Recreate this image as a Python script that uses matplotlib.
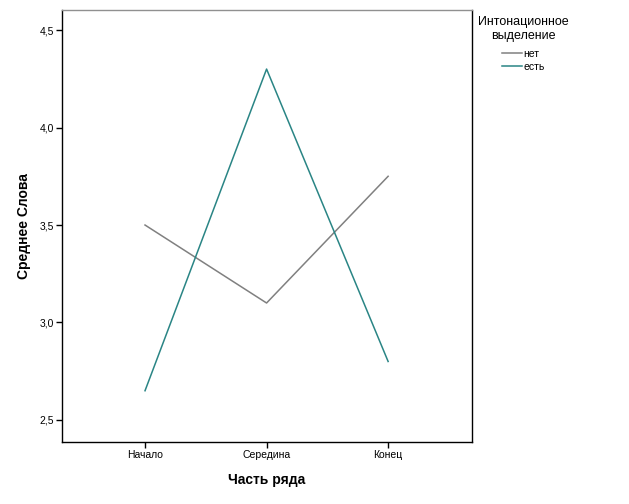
# -*- coding: utf-8 -*-
"""Профильный график средних: Среднее Слова по частям ряда."""
import matplotlib
matplotlib.use("Agg")
import matplotlib.pyplot as plt

categories = ["Начало", "Середина", "Конец"]
net_vals = [3.50, 3.10, 3.75]
est_vals = [2.65, 4.30, 2.80]
y_ticks = [2.5, 3.0, 3.5, 4.0, 4.5]
y_tick_labels = ["2,5", "3,0", "3,5", "4,0", "4,5"]

plt.rcParams["font.family"] = ["Liberation Sans", "DejaVu Sans"]

fig = plt.figure(figsize=(6.29, 5.04), dpi=100)
ax = fig.add_axes([62 / 629, 62 / 504, 410 / 629, 432 / 504])

x = range(len(categories))
ax.plot(x, net_vals, color="#808080", lw=1.1, label="нет")
ax.plot(x, est_vals, color="#2a8585", lw=1.1, label="есть")

ax.set_xlim(-0.683, 2.69)
ax.set_ylim(2.387, 4.603)
ax.set_xticks(list(x))
ax.set_xticklabels(categories, fontsize=7.5)
ax.set_yticks(y_ticks)
ax.set_yticklabels(y_tick_labels, fontsize=7.5)
ax.tick_params(direction="out", length=4, width=1, pad=2)

for side in ("left", "bottom", "right"):
    ax.spines[side].set_color("black")
    ax.spines[side].set_linewidth(1)
ax.spines["top"].set_color("#909090")
ax.spines["top"].set_linewidth(1)

ax.set_xlabel("Часть ряда", fontsize=10, fontweight="bold", labelpad=9)
ax.set_ylabel("Среднее Слова", fontsize=10, fontweight="bold", labelpad=6)

leg = fig.legend(loc="upper left", bbox_to_anchor=(474 / 629, 1 - 12 / 504),
                 title="Интонационное\nвыделение", frameon=False,
                 fontsize=7.5, title_fontsize=9, handlelength=1.9,
                 handletextpad=0.15, labelspacing=0.3, borderaxespad=0)
leg.get_title().set_multialignment("center")
leg._legend_box.align = "center"
leg._legend_box.sep = 5

fig.savefig("out.png", dpi=100)
